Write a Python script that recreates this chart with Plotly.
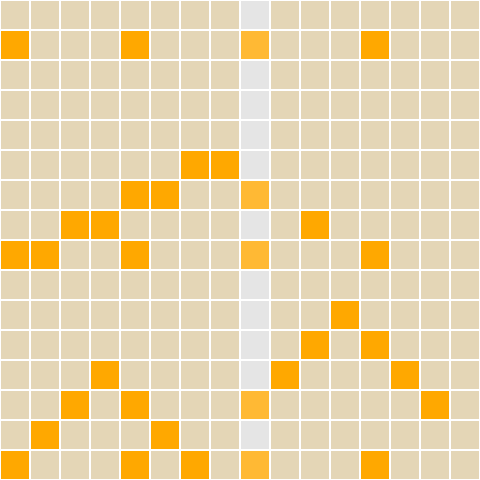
import plotly.graph_objects as go

steps = list(range(16))
tracks = list(range(16))
current_step = 8
# active steps per track (row, top to bottom)
active = [
    [],
    [0, 4, 8, 12],
    [],
    [],
    [],
    [6, 7],
    [4, 5, 8],
    [2, 3, 10],
    [0, 1, 4, 8, 12],
    [],
    [11],
    [10, 12],
    [3, 9, 13],
    [2, 4, 8, 14],
    [1, 5],
    [0, 4, 6, 8, 12],
]

BEIGE = "#e4d6b6"
ORANGE = "#ffa800"
GRAY = "#e5e5e5"
LIGHT_ORANGE = "#ffb934"

z = []
for r in tracks:
    row = []
    for c in steps:
        on = c in active[r]
        cur = c == current_step
        if on and cur:
            v = 3
        elif cur:
            v = 2
        elif on:
            v = 1
        else:
            v = 0
        row.append(v)
    z.append(row)

colorscale = [
    [0.0, BEIGE], [0.25, BEIGE],
    [0.25, ORANGE], [0.5, ORANGE],
    [0.5, GRAY], [0.75, GRAY],
    [0.75, LIGHT_ORANGE], [1.0, LIGHT_ORANGE],
]

fig = go.Figure(go.Heatmap(
    z=z, x=steps, y=tracks,
    zmin=-0.5, zmax=3.5,
    colorscale=colorscale,
    showscale=False,
    xgap=2, ygap=2,
    hoverinfo="skip",
))
fig.update_layout(
    width=480, height=480,
    margin=dict(l=0, r=0, t=0, b=0),
    paper_bgcolor="white", plot_bgcolor="white",
    xaxis=dict(visible=False, range=[-0.5, 15.5], fixedrange=True),
    yaxis=dict(visible=False, range=[15.5, -0.5], fixedrange=True),
)
fig.write_html(
    "out.html",
    config={"displayModeBar": False},
    post_script="document.body.style.margin='0';document.body.style.overflow='hidden';",
)
